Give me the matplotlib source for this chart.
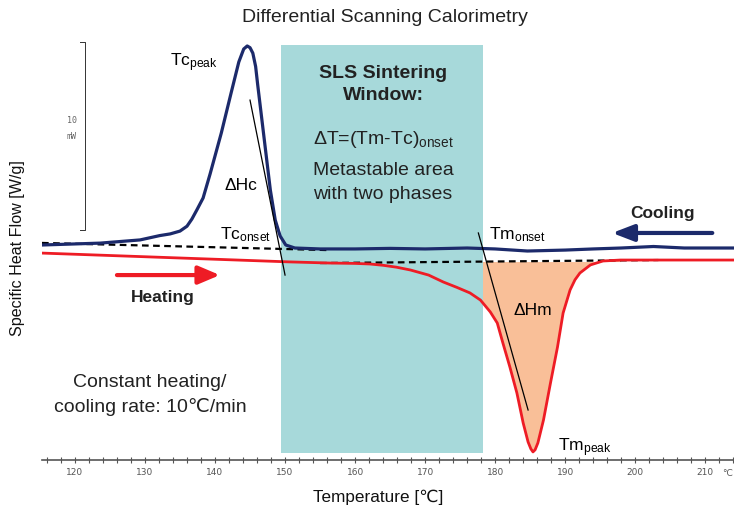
import numpy as np
import matplotlib
matplotlib.use("Agg")
import matplotlib.pyplot as plt

plt.rcParams['font.family'] = ['Liberation Sans', 'DejaVu Sans', 'Noto Sans CJK SC']
plt.rcParams['mathtext.fontset'] = 'custom'
plt.rcParams['mathtext.rm'] = 'Liberation Sans'
plt.rcParams['mathtext.it'] = 'Liberation Sans:italic'

# cooling curve (navy), temperature in C, heat flow in mW
cool_T = [115.3, 123.6, 129.3, 132.1, 133.6, 135.0, 136.0, 136.7, 137.4, 138.3, 139.3,
          140.9, 142.3, 143.4, 144.1, 144.6, 145.0, 145.4, 145.8, 146.1, 146.7, 147.3,
          147.9, 148.6, 149.3, 150.1, 151.4, 155, 160, 165, 170, 176, 180, 184.6, 190,
          194, 198, 202.6, 207, 214.1]
cool_y = [0.0, 0.1, 0.27, 0.5, 0.59, 0.74, 1.0, 1.38, 1.86, 2.5, 3.78,
          5.96, 8.09, 9.74, 10.43, 10.59, 10.5, 10.21, 9.5, 8.51, 6.65, 4.79,
          2.93, 1.33, 0.48, 0.0, -0.16, -0.21, -0.21, -0.18, -0.21, -0.16, -0.21, -0.32, -0.27,
          -0.21, -0.16, -0.08, -0.16, -0.16]

# heating curve (red)
heat_T = [115.3, 150.7, 156.4, 160.0, 162.1, 164.0, 165.9, 167.9, 170.5, 172.6, 174.5,
          176.4, 177.9, 179.3, 180.3, 181.1, 182.1, 183.1, 184.0, 184.7, 185.1, 185.4,
          185.7, 186.1, 186.9, 187.9, 188.9, 189.7, 190.7, 191.4, 192.1, 193.6, 195.4,
          197.9, 214.1]
heat_y = [-0.43, -0.90, -0.96, -0.98, -1.01, -1.08, -1.18, -1.33, -1.6, -1.97, -2.25,
          -2.55, -2.93, -3.56, -4.15, -5.21, -6.49, -7.87, -9.47, -10.48, -10.85, -11.01,
          -10.9, -10.53, -9.31, -7.34, -5.43, -3.62, -2.39, -1.85, -1.49, -1.06, -0.85,
          -0.80, -0.80]

# extrapolated baselines (dashed)
cool_base_T = [115.3, 156.1]
cool_base_y = [0.11, -0.27]
heat_base_T = [155.0, 203.3]
heat_base_y = [-0.96, -0.80]

# tangents at the onsets
tan_c_T = [145.0, 150.0]
tan_c_y = [7.71, -1.6]
tan_m_T = [177.6, 184.7]
tan_m_y = [0.64, -8.78]

window = (149.4, 178.3)
xticks_lab = [120, 130, 140, 150, 160, 170, 180, 190, 200, 210]

navy = '#1c2a6b'
red = '#ee1c25'

fig = plt.figure(figsize=(7.34, 5.12), dpi=100)
ax = fig.add_axes([42 / 734, 52 / 512, 692 / 734, 430 / 512])
ax.set_xlim(115.3, 214.1)
ax.set_ylim(-11.44, 11.44)

# sintering window
ax.fill_between(window, -11.06, 10.64, color='#a7d9da', zorder=1.5, lw=0)

# melting enthalpy area
hT = np.array(heat_T)
hy = np.array(heat_y)
m = (hT >= 177.9) & (hT <= 197.9)
ax.fill_between(hT[m], hy[m], -0.88, color='#f9bf98', zorder=1, lw=0)

ax.plot(cool_base_T, cool_base_y, color='black', lw=1.6, dashes=(3, 2), zorder=2.5)
ax.plot(heat_base_T, heat_base_y, color='black', lw=1.6, dashes=(3, 2), zorder=2.5)
ax.plot(heat_T, heat_y, color=red, lw=2.0, zorder=3, solid_joinstyle='round')
ax.plot(cool_T, cool_y, color=navy, lw=2.3, zorder=3.2, solid_joinstyle='round')
ax.plot(tan_c_T, tan_c_y, color='black', lw=0.9, zorder=4)
ax.plot(tan_m_T, tan_m_y, color='black', lw=0.9, zorder=4)

# scale bar
ax.plot([120.7, 121.4, 121.4, 120.7], [10.8, 10.8, 0.8, 0.8], color='#333333', lw=0.7)
ax.text(119.6, 6.6, '10', fontsize=6, family='DejaVu Sans Mono', color='#666666',
        ha='center', va='center')
ax.text(119.5, 5.75, 'mW', fontsize=6, family='DejaVu Sans Mono', color='#666666',
        ha='center', va='center')

# arrows
ax.annotate('', xy=(196.7, 0.64), xytext=(211.0, 0.64), zorder=5,
            arrowprops=dict(arrowstyle='-|>,head_length=1.3,head_width=0.5',
                            color=navy, lw=3, shrinkA=0, shrinkB=0))
ax.annotate('', xy=(140.7, -1.6), xytext=(126.0, -1.6), zorder=5,
            arrowprops=dict(arrowstyle='-|>,head_length=1.3,head_width=0.55',
                            color=red, lw=3, shrinkA=0, shrinkB=0))

fs = 14
ax.text(133.6, 9.7, r'Tc$_{\rm peak}$', fontsize=12.5, va='center', zorder=6)
ax.text(141.4, 3.14, 'ΔHc', fontsize=12.5, va='center', zorder=6)
ax.text(140.7, 0.55, r'Tc$_{\rm onset}$', fontsize=12.5, va='center', zorder=6)
ax.text(164.0, 9.1, 'SLS Sintering', fontsize=fs, fontweight='bold', ha='center',
        va='center', color='#222222', zorder=6)
ax.text(164.0, 7.95, 'Window:', fontsize=fs, fontweight='bold', ha='center',
        va='center', color='#222222', zorder=6)
ax.text(164.0, 5.6, r'ΔT=(Tm-Tc)$_{\rm onset}$', fontsize=fs, ha='center',
        va='center', color='#222222', zorder=6)
ax.text(164.0, 3.99, 'Metastable area', fontsize=fs, ha='center', va='center',
        color='#222222', zorder=6)
ax.text(164.0, 2.71, 'with two phases', fontsize=fs, ha='center', va='center',
        color='#222222', zorder=6)
ax.text(179.1, 0.55, r'Tm$_{\rm onset}$', fontsize=12.5, va='center', zorder=6)
ax.text(203.9, 1.65, 'Cooling', fontsize=12.5, fontweight='bold', ha='center',
        va='center', color='#222222', zorder=6)
ax.text(132.6, -2.77, 'Heating', fontsize=12.5, fontweight='bold', ha='center',
        va='center', color='#222222', zorder=6)
ax.text(182.6, -3.51, 'ΔHm', fontsize=12.5, va='center', zorder=6)
ax.text(189.0, -10.8, r'Tm$_{\rm peak}$', fontsize=12.5, va='center', zorder=6)
ax.text(130.7, -7.29, 'Constant heating/', fontsize=fs, ha='center', va='center',
        color='#222222', zorder=6)
ax.text(130.7, -8.62, 'cooling rate: 10℃/min', fontsize=fs, ha='center',
        va='center', color='#222222', zorder=6)

# axis
for s in ['left', 'right', 'top']:
    ax.spines[s].set_visible(False)
ax.spines['bottom'].set_color('#555555')
ax.spines['bottom'].set_linewidth(1.2)
ax.set_yticks([])
ax.set_xticks(xticks_lab)
ax.set_xticklabels([str(t) for t in xticks_lab], family='DejaVu Sans', fontsize=6.5,
                   color='#555555')
ax.set_xticks(np.arange(116, 215, 2), minor=True)
ax.tick_params(axis='x', which='both', direction='inout', length=4, width=0.8,
               color='#555555', pad=4)

fig.text(722 / 734, 1 - 474 / 512, '°C', fontsize=6.5, family='DejaVu Sans',
         color='#555555', ha='left', va='center')
fig.text(385 / 734, 1 - 17 / 512, 'Differential Scanning Calorimetry', fontsize=14,
         ha='center', va='center', color='#222222')
fig.text(378 / 734, 1 - 497 / 512, 'Temperature [℃]', fontsize=12.3, ha='center',
         va='center', color='#111111')
fig.text(18 / 734, 1 - 248 / 512, 'Specific Heat Flow [W/g]', fontsize=11.6,
         rotation=90, ha='center', va='center', color='#111111')

fig.savefig('out.png', dpi=100)
